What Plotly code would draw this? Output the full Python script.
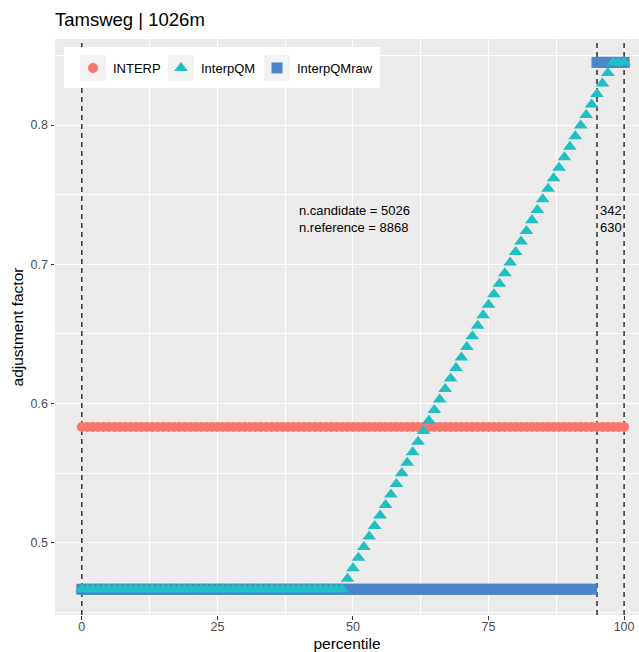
import plotly.graph_objects as go

# ---------------- data ----------------
percentile = list(range(0, 101))

interp = [0.583] * 101

interp_qm = [0.4665] * 49 + [
    0.4741, 0.4816, 0.4892, 0.4968, 0.5044, 0.5119, 0.5195, 0.5271, 0.5346, 0.5422,
    0.5498, 0.5573, 0.5649, 0.5725, 0.5801, 0.5876, 0.5952, 0.6028, 0.6103, 0.6179,
    0.6255, 0.6330, 0.6406, 0.6482, 0.6558, 0.6633, 0.6709, 0.6785, 0.6860, 0.6936,
    0.7012, 0.7087, 0.7163, 0.7239, 0.7315, 0.7390, 0.7466, 0.7542, 0.7617, 0.7693,
    0.7769, 0.7844, 0.7920, 0.7996, 0.8072, 0.8147, 0.8223, 0.8299, 0.8374,
] + [0.845] * 3

interp_qm_raw = [0.4665] * 95 + [0.845] * 6

vlines = [0, 95, 100]

x_ticks = [0, 25, 50, 75, 100]
y_ticks = [0.5, 0.6, 0.7, 0.8]

title_text = "Tamsweg | 1026m"
note_left = ["n.candidate = 5026", "n.reference = 8868"]
note_right = ["342", "630"]

# ---------------- geometry ----------------
W, H = 639, 652
ML, MR, MT, MB = 55, 0, 39, 37
PW, PH = W - ML - MR, H - MT - MB
X_RANGE = [-4.95, 102.75]
Y_RANGE = [0.448, 0.8618]


def px_x(p):
    return (p - ML) / PW


def px_y(p):
    return (H - MB - p) / PH


FONT = "Liberation Sans, Arial, Helvetica, sans-serif"
RED = "#F8766D"
TEAL = "#1FBFC4"
BLUE = "#4A86C8"

fig = go.Figure()

# dashed reference lines (drawn first, beneath the points)
for v in vlines:
    fig.add_trace(go.Scatter(
        x=[v, v], y=Y_RANGE, mode="lines", showlegend=False, hoverinfo="skip",
        line=dict(color="black", width=1.2, dash="5px,4px"),
    ))

fig.add_trace(go.Scatter(
    x=percentile, y=interp, mode="markers", name="INTERP", legend="legend",
    marker=dict(symbol="circle", size=10, color=RED, line=dict(width=0)),
))
fig.add_trace(go.Scatter(
    x=percentile, y=interp_qm_raw, mode="markers", name="InterpQMraw", legend="legend3",
    marker=dict(symbol="square", size=11, color=BLUE, line=dict(width=0)),
))
fig.add_trace(go.Scatter(
    x=percentile, y=interp_qm, mode="markers", name="InterpQM", legend="legend2",
    marker=dict(symbol="triangle-up", size=12, color=TEAL, line=dict(width=0)),
))

shapes = []
# legend box and key backgrounds
shapes.append(dict(type="rect", xref="paper", yref="paper",
                   x0=px_x(64), x1=px_x(380), y0=px_y(88), y1=px_y(47),
                   fillcolor="white", line=dict(width=0), layer="above"))
for kx in (80, 168, 264):
    shapes.append(dict(type="rect", xref="paper", yref="paper",
                       x0=px_x(kx), x1=px_x(kx + 26), y0=px_y(81), y1=px_y(55),
                       fillcolor="#F2F2F2", line=dict(width=0), layer="above"))

annotations = []
for i, t in enumerate(note_left):
    annotations.append(dict(x=39.7, y=[0.7386, 0.7267][i], xref="x", yref="y", text=t,
                            showarrow=False, xanchor="left", yanchor="middle",
                            font=dict(family=FONT, size=13, color="black")))
for i, t in enumerate(note_right):
    annotations.append(dict(x=95.2, y=[0.7386, 0.7267][i], xref="x", yref="y", text=t,
                            showarrow=False, xanchor="left", yanchor="middle",
                            font=dict(family=FONT, size=13, color="black")))

leg_common = dict(orientation="h", xanchor="left", y=px_y(68), yanchor="middle",
                  bgcolor="rgba(0,0,0,0)", font=dict(family=FONT, size=13, color="black"),
                  itemsizing="trace")

fig.update_layout(
    width=W, height=H,
    margin=dict(l=ML, r=MR, t=MT, b=MB, autoexpand=False),
    paper_bgcolor="white", plot_bgcolor="#EBEBEB",
    font=dict(family=FONT, color="black"),
    title=dict(text=title_text, x=0, xref="paper", xanchor="left",
               y=1 - 20 / H, yref="container", yanchor="middle",
               font=dict(size=18.5, color="black")),
    showlegend=True,
    legend=dict(x=px_x(73), **leg_common),
    legend2=dict(x=px_x(161), **leg_common),
    legend3=dict(x=px_x(257), **leg_common),
    shapes=shapes,
    annotations=annotations,
)

fig.update_xaxes(
    range=X_RANGE, tickmode="array", tickvals=x_ticks,
    ticktext=[str(v) for v in x_ticks],
    showgrid=True, gridcolor="white", gridwidth=1.2, zeroline=False, showline=False,
    ticks="outside", ticklen=3.5, tickwidth=1, tickcolor="#333333",
    tickfont=dict(size=12.5, color="#4D4D4D"), ticklabelstandoff=-4,
    minor=dict(tickvals=[12.5, 37.5, 62.5, 87.5], showgrid=True, gridcolor="white",
               gridwidth=0.6, ticks=""),
    title=dict(text="percentile", font=dict(size=15.5, color="black"), standoff=11),
)
fig.update_yaxes(
    range=Y_RANGE, tickmode="array", tickvals=y_ticks,
    ticktext=[str(v) for v in y_ticks],
    showgrid=True, gridcolor="white", gridwidth=1.2, zeroline=False, showline=False,
    ticks="outside", ticklen=3.5, tickwidth=1, tickcolor="#333333",
    tickfont=dict(size=12.5, color="#4D4D4D"),
    minor=dict(tickvals=[0.45, 0.55, 0.65, 0.75, 0.85], showgrid=True, gridcolor="white",
               gridwidth=0.6, ticks=""),
    title=dict(text="adjustment factor", font=dict(size=15.5, color="black"), standoff=3),
)

fig.write_html("out.html")
